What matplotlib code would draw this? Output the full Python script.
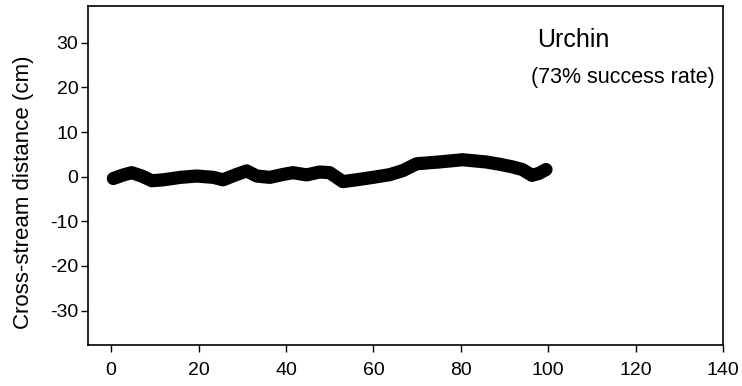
import matplotlib
matplotlib.use("Agg")
import matplotlib.pyplot as plt

plt.rcParams['font.family'] = ['Liberation Sans', 'DejaVu Sans']
plt.rcParams['axes.unicode_minus'] = False

# path of the urchin (downstream distance, cross-stream distance), cm
x_cm = [0.5, 2.8, 4.7, 7.0, 9.3, 11.9, 15.8, 19.6, 23.4, 25.6, 28.7, 31.0,
        33.3, 36.3, 39.3, 41.6, 44.7, 47.7, 50.0, 53.0, 56.1, 59.9, 63.7,
        66.7, 69.9, 75.1, 80.4, 85.8, 88.8, 91.8, 94.1, 96.3, 97.9, 99.5]
y_cm = [-0.4, 0.4, 0.9, 0.15, -0.9, -0.7, -0.15, 0.15, -0.15, -0.7, 0.5, 1.3,
        0.15, -0.15, 0.5, 0.9, 0.4, 1.05, 0.9, -1.1, -0.7, -0.15, 0.45,
        1.35, 2.9, 3.3, 3.8, 3.3, 2.8, 2.2, 1.6, 0.3, 0.75, 1.6]

xticks = [0, 20, 40, 60, 80, 100, 120, 140]
yticks = [-30, -20, -10, 0, 10, 20, 30]

fig = plt.figure(figsize=(7.42, 3.86), dpi=100)
ax = fig.add_axes([0.1186, 0.1062, 0.8558, 0.879])

ax.plot(x_cm, y_cm, color='black', linewidth=9.5, solid_capstyle='round',
        solid_joinstyle='round')

ax.set_xlim(-5.3, 140)
ax.set_ylim(-37.7, 38.3)
ax.set_xticks(xticks)
ax.set_yticks(yticks)
ax.tick_params(axis='both', direction='out', length=5, width=1, labelsize=14)
ax.tick_params(axis='x', pad=7)
ax.tick_params(axis='y', pad=2)
for s in ax.spines.values():
    s.set_linewidth(1.2)

ax.set_ylabel('Cross-stream distance (cm)', fontsize=16)
ax.yaxis.set_label_coords(-0.085, 0.45)

ax.text(0.707, 0.878, 'Urchin', transform=ax.transAxes, fontsize=18)
ax.text(0.698, 0.772, '(73% success rate)', transform=ax.transAxes, fontsize=15.5)

fig.savefig('out.png', dpi=100)
